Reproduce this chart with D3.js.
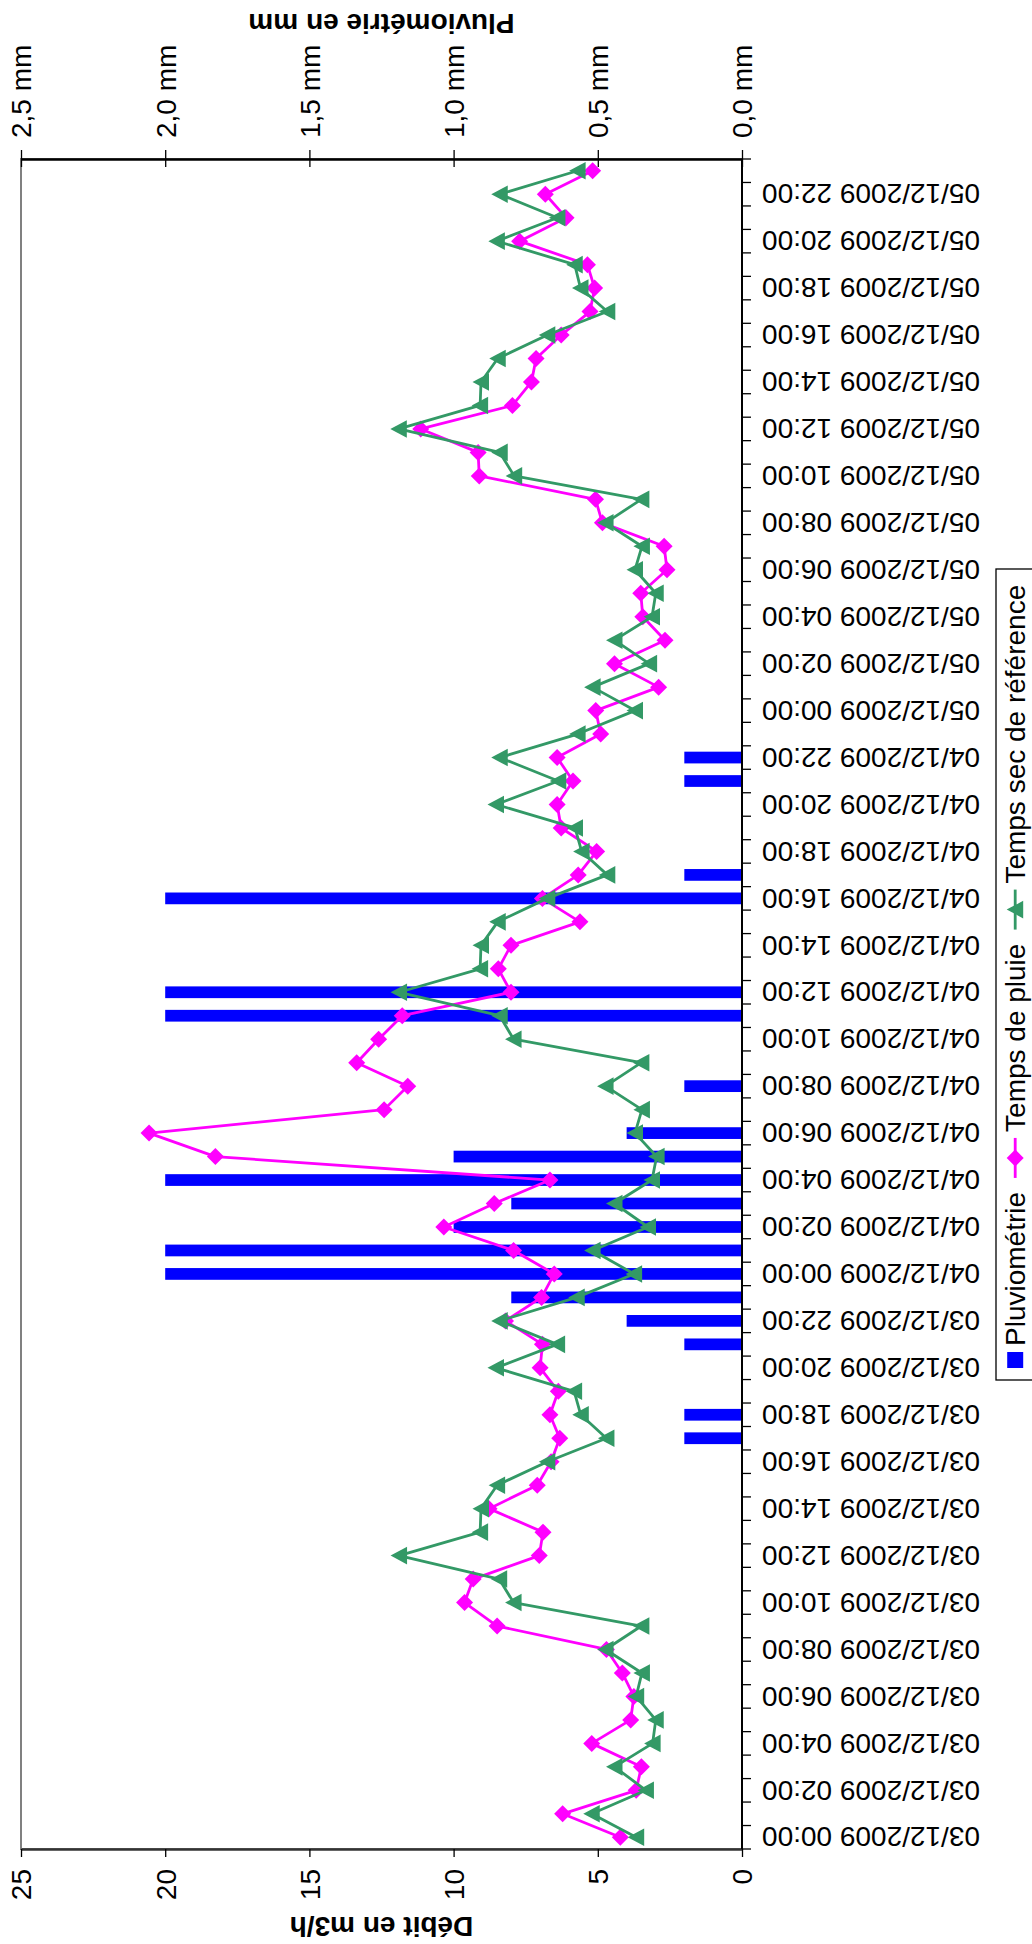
<!DOCTYPE html>
<html><head><meta charset="utf-8">
<script src="https://cdn.jsdelivr.net/npm/d3@7"></script>
<style>
body{margin:0;background:#fff}
svg{display:block}
text{font-family:"Liberation Sans",Arial,sans-serif;fill:#000}
</style>
</head><body>
<svg id="c" width="1032" height="1944"></svg>
<script>
// ---------- DATA ----------
const categories = [
"03/12/2009 00:00","03/12/2009 01:00","03/12/2009 02:00","03/12/2009 03:00","03/12/2009 04:00","03/12/2009 05:00",
"03/12/2009 06:00","03/12/2009 07:00","03/12/2009 08:00","03/12/2009 09:00","03/12/2009 10:00","03/12/2009 11:00",
"03/12/2009 12:00","03/12/2009 13:00","03/12/2009 14:00","03/12/2009 15:00","03/12/2009 16:00","03/12/2009 17:00",
"03/12/2009 18:00","03/12/2009 19:00","03/12/2009 20:00","03/12/2009 21:00","03/12/2009 22:00","03/12/2009 23:00",
"04/12/2009 00:00","04/12/2009 01:00","04/12/2009 02:00","04/12/2009 03:00","04/12/2009 04:00","04/12/2009 05:00",
"04/12/2009 06:00","04/12/2009 07:00","04/12/2009 08:00","04/12/2009 09:00","04/12/2009 10:00","04/12/2009 11:00",
"04/12/2009 12:00","04/12/2009 13:00","04/12/2009 14:00","04/12/2009 15:00","04/12/2009 16:00","04/12/2009 17:00",
"04/12/2009 18:00","04/12/2009 19:00","04/12/2009 20:00","04/12/2009 21:00","04/12/2009 22:00","04/12/2009 23:00",
"05/12/2009 00:00","05/12/2009 01:00","05/12/2009 02:00","05/12/2009 03:00","05/12/2009 04:00","05/12/2009 05:00",
"05/12/2009 06:00","05/12/2009 07:00","05/12/2009 08:00","05/12/2009 09:00","05/12/2009 10:00","05/12/2009 11:00",
"05/12/2009 12:00","05/12/2009 13:00","05/12/2009 14:00","05/12/2009 15:00","05/12/2009 16:00","05/12/2009 17:00",
"05/12/2009 18:00","05/12/2009 19:00","05/12/2009 20:00","05/12/2009 21:00","05/12/2009 22:00","05/12/2009 23:00"
];
const timeTickLabels = [
"03/12/2009 00:00","03/12/2009 02:00","03/12/2009 04:00","03/12/2009 06:00","03/12/2009 08:00","03/12/2009 10:00",
"03/12/2009 12:00","03/12/2009 14:00","03/12/2009 16:00","03/12/2009 18:00","03/12/2009 20:00","03/12/2009 22:00",
"04/12/2009 00:00","04/12/2009 02:00","04/12/2009 04:00","04/12/2009 06:00","04/12/2009 08:00","04/12/2009 10:00",
"04/12/2009 12:00","04/12/2009 14:00","04/12/2009 16:00","04/12/2009 18:00","04/12/2009 20:00","04/12/2009 22:00",
"05/12/2009 00:00","05/12/2009 02:00","05/12/2009 04:00","05/12/2009 06:00","05/12/2009 08:00","05/12/2009 10:00",
"05/12/2009 12:00","05/12/2009 14:00","05/12/2009 16:00","05/12/2009 18:00","05/12/2009 20:00","05/12/2009 22:00"
];
// Pluviométrie (mm)
const pluviometrie = [
0,0,0,0,0,0,0,0,0,0,0,0,0,0,0,0,0,0.2,
0.2,0,0,0.2,0.4,0.8,2.0,2.0,1.0,0.8,2.0,1.0,
0.4,0,0.2,0,0,2.0,2.0,0,0,0,2.0,0.2,
0,0,0,0.2,0.2,0,
0,0,0,0,0,0,0,0,0,0,0,0,0,0,0,0,0,0,0,0,0,0,0,0
];
// Débit temps de pluie (m3/h)
const tempsDePluie = [
4.22,6.22,3.67,3.49,5.21,3.86,3.75,4.15,4.70,8.49,9.62,9.32,7.03,6.90,8.77,7.10,6.62,6.32,6.66,6.37,7.00,6.92,8.20,6.95,
6.51,7.92,10.34,8.59,6.66,18.26,20.56,12.41,11.59,13.36,12.60,11.78,8.01,8.45,8.01,5.62,6.92,5.68,5.04,6.27,6.41,5.86,6.41,4.90,
5.07,2.89,4.42,2.67,3.44,3.51,2.60,2.70,4.84,5.08,9.11,9.15,11.14,7.96,7.30,7.14,6.27,5.27,5.11,5.36,7.71,6.10,6.82,5.18
];
// Débit temps sec de référence (m3/h)
const tempsSec = [
3.67,5.21,3.33,4.42,3.10,2.99,3.67,3.47,4.73,3.49,7.92,8.42,11.89,9.08,9.05,8.49,6.75,4.70,5.59,5.82,8.53,6.41,8.40,5.73,
3.74,5.18,3.26,4.42,3.12,2.96,3.71,3.47,4.73,3.49,7.92,8.40,11.89,9.08,9.05,8.47,6.75,4.67,5.56,5.79,8.53,6.37,8.40,5.70,
3.71,5.18,3.22,4.42,3.12,2.99,3.71,3.47,4.73,3.49,7.90,8.40,11.90,9.08,9.05,8.47,6.75,4.67,5.60,5.80,8.50,6.40,8.40,5.70
];
const debitTicks = [0,5,10,15,20,25];
const pluvioTicks = [0,0.5,1.0,1.5,2.0,2.5];
const seriesNames = ["Pluviométrie","Temps de pluie","Temps sec de référence"];
const axisTitles = {debit:"Débit en m3/h", pluvio:"Pluviométrie en mm"};

// ---------- LAYOUT ----------
const plot = {left:21, right:742, top:159, bottom:1849};
const FS = 28;
const colBar = "#0000FF", colPluie = "#FF00FF", colSec = "#339966";

const svg = d3.select("#c");
svg.append("rect").attr("width",1032).attr("height",1944).attr("fill","#fff");

const y = d3.scaleBand().domain(categories).range([plot.bottom, plot.top]).paddingInner(0).paddingOuter(0);
const bw = y.bandwidth();
const cy = c => y(c) + bw/2;
const xD = d3.scaleLinear().domain([0,25]).range([plot.right, plot.left]);
const xP = d3.scaleLinear().domain([0,2.5]).range([plot.right, plot.left]);

// plot border
svg.append("rect").attr("x",plot.left).attr("y",plot.top)
  .attr("width",plot.right-plot.left).attr("height",plot.bottom-plot.top)
  .attr("fill","#fff").attr("stroke","#808080").attr("stroke-width",2);

// bars
const barData = categories.map((c,i)=>({c, v:pluviometrie[i]})).filter(d=>d.v>0);
svg.append("g").selectAll("rect").data(barData).join("rect")
  .attr("x", d=>xP(d.v)).attr("width", d=>xP(0)-xP(d.v))
  .attr("y", d=>y(d.c)+bw/4).attr("height", bw/2)
  .attr("fill", colBar);

// top (pluvio) axis
const gTop = svg.append("g").attr("transform",`translate(0,${plot.top})`)
  .call(d3.axisTop(xP).tickValues(pluvioTicks).tickSize(8).tickSizeOuter(0)
    .tickFormat(d=>d3.format(".1f")(d).replace(".",",")+" mm"));
gTop.select(".domain").attr("stroke","#000").attr("stroke-width",2.4);
gTop.selectAll(".tick line").attr("y1",8).attr("y2",-9).attr("stroke","#000").attr("stroke-width",1.3);
gTop.selectAll(".tick text")
  .attr("font-size",FS).attr("font-family",'"Liberation Sans",Arial,sans-serif')
  .attr("text-anchor","start").attr("x",0).attr("y",0).attr("dy","0.35em")
  .attr("transform","translate(0,-21) rotate(-90)");

// bottom (debit) axis
const gBot = svg.append("g").attr("transform",`translate(0,${plot.bottom})`)
  .call(d3.axisBottom(xD).tickValues(debitTicks).tickSize(8).tickSizeOuter(0));
gBot.select(".domain").attr("stroke","#333").attr("stroke-width",2.4);
gBot.selectAll(".tick line").attr("stroke","#000").attr("stroke-width",1.3);
gBot.selectAll(".tick text")
  .attr("font-size",FS).attr("font-family",'"Liberation Sans",Arial,sans-serif')
  .attr("text-anchor","end").attr("x",0).attr("y",0).attr("dy","0.35em")
  .attr("transform","translate(0,20) rotate(-90)");

// right (category) axis
svg.append("line").attr("x1",plot.right).attr("x2",plot.right)
  .attr("y1",plot.top).attr("y2",plot.bottom).attr("stroke","#000").attr("stroke-width",2);
const bounds = categories.map(c=>y(c)).concat([y(categories[0])+bw]);
svg.append("g").selectAll("line").data(bounds).join("line")
  .attr("x1",plot.right).attr("x2",plot.right+9)
  .attr("y1",d=>d).attr("y2",d=>d).attr("stroke","#000").attr("stroke-width",1.3);
svg.append("g").selectAll("text").data(timeTickLabels).join("text")
  .attr("x",762).attr("y",d=>cy(d)).attr("dy","0.35em")
  .attr("text-anchor","end").attr("font-size",FS)
  .attr("transform",d=>`rotate(180,762,${cy(d)})`)
  .text(d=>d);

// lines
const line = d3.line().x(d=>xD(d.v)).y(d=>cy(d.c));
const pluieData = categories.map((c,i)=>({c, v:tempsDePluie[i]}));
const secData = categories.map((c,i)=>({c, v:tempsSec[i]}));

const diamond = "M-8.5,0L0,-8.5L8.5,0L0,8.5Z";
const triangle = "M-8.5,0L8,-8.8L8,8.8Z";

svg.append("path").datum(pluieData).attr("d",line)
  .attr("fill","none").attr("stroke",colPluie).attr("stroke-width",2.8).attr("stroke-linejoin","round");
svg.append("g").selectAll("path").data(pluieData).join("path")
  .attr("d",diamond).attr("transform",d=>`translate(${xD(d.v)},${cy(d.c)})`).attr("fill",colPluie);

svg.append("path").datum(secData).attr("d",line)
  .attr("fill","none").attr("stroke",colSec).attr("stroke-width",2.8).attr("stroke-linejoin","round");
svg.append("g").selectAll("path").data(secData).join("path")
  .attr("d",triangle).attr("transform",d=>`translate(${xD(d.v)},${cy(d.c)})`).attr("fill",colSec);

// axis titles (rotated 180)
const midX = (plot.left+plot.right)/2;
svg.append("text").attr("x",midX).attr("y",24).attr("dy","0.35em")
  .attr("text-anchor","middle").attr("font-size",FS).attr("font-weight","bold")
  .attr("transform",`rotate(180,${midX},24)`).text(axisTitles.pluvio);
svg.append("text").attr("x",midX).attr("y",1927).attr("dy","0.35em")
  .attr("text-anchor","middle").attr("font-size",FS).attr("font-weight","bold")
  .attr("transform",`rotate(180,${midX},1927)`).text(axisTitles.debit);

// legend (rotated -90)
const leg = {x0:996, x1:1060, top:569, bottom:1380, base:1025};
svg.append("rect").attr("x",leg.x0).attr("y",leg.top).attr("width",leg.x1-leg.x0)
  .attr("height",leg.bottom-leg.top).attr("fill","#fff").attr("stroke","#000").attr("stroke-width",1.3);
const midLine = leg.base - 0.35*FS;
let cur = leg.bottom - 12;
function legText(t){
  const t2 = svg.append("text").attr("font-size",FS).attr("text-anchor","start")
    .attr("transform",`translate(${leg.base},${cur}) rotate(-90)`).text(t);
  cur -= t2.node().getComputedTextLength();
}
function legSymbol(col, shape){
  svg.append("line").attr("x1",midLine).attr("x2",midLine).attr("y1",cur).attr("y2",cur-40)
    .attr("stroke",col).attr("stroke-width",2.8);
  svg.append("path").attr("d",shape).attr("fill",col).attr("transform",`translate(${midLine},${cur-20})`);
  cur -= 40 + 6;
}
// blue square
svg.append("rect").attr("x",midLine-8).attr("y",cur-16).attr("width",16).attr("height",16).attr("fill",colBar);
cur -= 16 + 6;
legText(seriesNames[0]);
cur -= 14;
legSymbol(colPluie, diamond);
legText(seriesNames[1]);
cur -= 14;
legSymbol(colSec, triangle);
legText(seriesNames[2]);
</script>
</body></html>
